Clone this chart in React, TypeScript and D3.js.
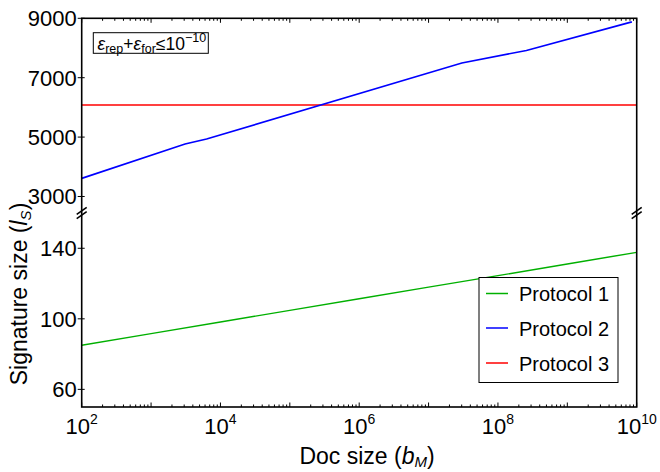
import React from "react";
import * as d3 from "d3";

const xTickExps = [2, 4, 6, 8, 10];
const p1Exp = [2, 3, 4, 5, 6, 7, 8, 9, 10];
const protocol1 = [85.0, 91.6, 98.2, 104.8, 111.4, 118.0, 124.5, 131.1, 137.7];
const p2Exp = [2, 3.49, 3.8, 7.48, 8.41, 9.93];
const protocol2 = [3610, 4770, 4935, 7495, 7918, 8880];
const p3Exp = [2, 10];
const protocol3 = [6080, 6080];
const upperTicks = [3000, 5000, 7000, 9000];
const lowerTicks = [60, 100, 140];
const legendNames = ["Protocol 1", "Protocol 2", "Protocol 3"];
const colors = ["#00b000", "#0000ff", "#ff0000"];

const FONT = "'Liberation Sans', Arial, Helvetica, sans-serif";

export default function App() {
  const L = 81.7, R = 636.7, T = 18.3, B = 407, BRK = 213;
  const x = d3.scaleLog().domain([1e2, 1e10]).range([L, R]);
  const yUp = d3.scaleLinear().domain([2444, 9000]).range([BRK, T]);
  const yLo = d3.scaleLinear().domain([50, 160]).range([B, BRK]);

  const lineUp = d3.line<[number, number]>().x(d => x(Math.pow(10, d[0]))).y(d => yUp(d[1]));
  const lineLo = d3.line<[number, number]>().x(d => x(Math.pow(10, d[0]))).y(d => yLo(d[1]));

  const d1 = lineLo(p1Exp.map((e, i) => [e, protocol1[i]] as [number, number])) || "";
  const d2 = lineUp(p2Exp.map((e, i) => [e, protocol2[i]] as [number, number])) || "";
  const d3p = lineUp(p3Exp.map((e, i) => [e, protocol3[i]] as [number, number])) || "";

  const xTicks: { v: number; major: boolean }[] = [];
  for (let k = 2; k <= 10; k++) {
    xTicks.push({ v: Math.pow(10, k), major: true });
    if (k < 10) for (let m = 2; m <= 9; m++) xTicks.push({ v: m * Math.pow(10, k), major: false });
  }

  const breakMarks = (cx: number) => (
    <g>
      {[-2.2, 2.2].map((o, i) => (
        <line key={i} x1={cx - 5} y1={BRK + o + 3.5} x2={cx + 5} y2={BRK + o - 3.5} stroke="#000" strokeWidth={1.6} />
      ))}
    </g>
  );

  const legX = 479, legY = 277.5, legW = 139, legH = 105;
  const rowYs = [293.5, 328, 363];

  return (
    <div style={{ position: "absolute", left: 0, top: 0 }}>
      <svg width={660} height={472} style={{ display: "block", background: "#fff" }} fontFamily={FONT}>
        <rect width={660} height={472} fill="#fff" />
        <path d={d3p} fill="none" stroke={colors[2]} strokeWidth={1.5} />
        <path d={d2} fill="none" stroke={colors[1]} strokeWidth={1.6} />
        <path d={d1} fill="none" stroke={colors[0]} strokeWidth={1.4} />

        <rect x={L} y={T} width={R - L} height={B - T} fill="none" stroke="#000" strokeWidth={1.6} />

        {xTicks.map((t, i) => {
          const px = x(t.v);
          const len = t.major ? 4.5 : 2.5;
          return (
            <g key={i}>
              <line x1={px} x2={px} y1={B} y2={B - len} stroke="#000" strokeWidth={1} />
              <line x1={px} x2={px} y1={T} y2={T + len} stroke="#000" strokeWidth={1} />
            </g>
          );
        })}
        {xTickExps.map((e) => (
          <text key={e} x={x(Math.pow(10, e))} y={434} fontSize={22} textAnchor="middle" fill="#000">
            10<tspan fontSize={14} dy={-10}>{e}</tspan>
          </text>
        ))}

        {upperTicks.map((v) => (
          <g key={v}>
            <line x1={L - 4} x2={L + 3} y1={yUp(v)} y2={yUp(v)} stroke="#000" strokeWidth={1} />
            <text x={L - 5} y={yUp(v) + 8} fontSize={22} textAnchor="end" fill="#000">{v}</text>
          </g>
        ))}
        {lowerTicks.map((v) => (
          <g key={v}>
            <line x1={L - 4} x2={L + 3} y1={yLo(v)} y2={yLo(v)} stroke="#000" strokeWidth={1} />
            <text x={L - 5} y={yLo(v) + 8} fontSize={22} textAnchor="end" fill="#000">{v}</text>
          </g>
        ))}

        {breakMarks(L)}
        {breakMarks(R)}

        <text x={367} y={464} fontSize={23} textAnchor="middle" fill="#000">
          Doc size (<tspan fontStyle="italic">b</tspan><tspan fontStyle="italic" fontSize={15} dy={3}>M</tspan><tspan dy={-3}>)</tspan>
        </text>
        <text transform="translate(27,294) rotate(-90)" fontSize={23} textAnchor="middle" fill="#000">
          Signature size (<tspan fontStyle="italic">l</tspan><tspan fontStyle="italic" fontSize={15} dy={4}>S</tspan><tspan dy={-4}>)</tspan>
        </text>

        <rect x={93.3} y={32.7} width={115} height={20.6} fill="#fff" stroke="#000" strokeWidth={1} />
        <text x={97.5} y={49.5} fontSize={17.5} fill="#000">
          <tspan fontStyle="italic">ε</tspan><tspan fontSize={12.5} dy={3}>rep</tspan><tspan dy={-3}>+</tspan><tspan fontStyle="italic">ε</tspan><tspan fontSize={12.5} dy={3}>for</tspan><tspan dy={-3}>≤10</tspan><tspan fontSize={12.5} dy={-7.5}>−10</tspan>
        </text>

        <rect x={legX} y={legY} width={legW} height={legH} fill="#fff" stroke="#000" strokeWidth={1} />
        {legendNames.map((n, i) => (
          <g key={n}>
            <line x1={486} x2={508} y1={rowYs[i]} y2={rowYs[i]} stroke={colors[i]} strokeWidth={1.5} />
            <text x={519} y={rowYs[i] + 7.5} fontSize={20} fill="#000">{n}</text>
          </g>
        ))}
      </svg>
    </div>
  );
}
